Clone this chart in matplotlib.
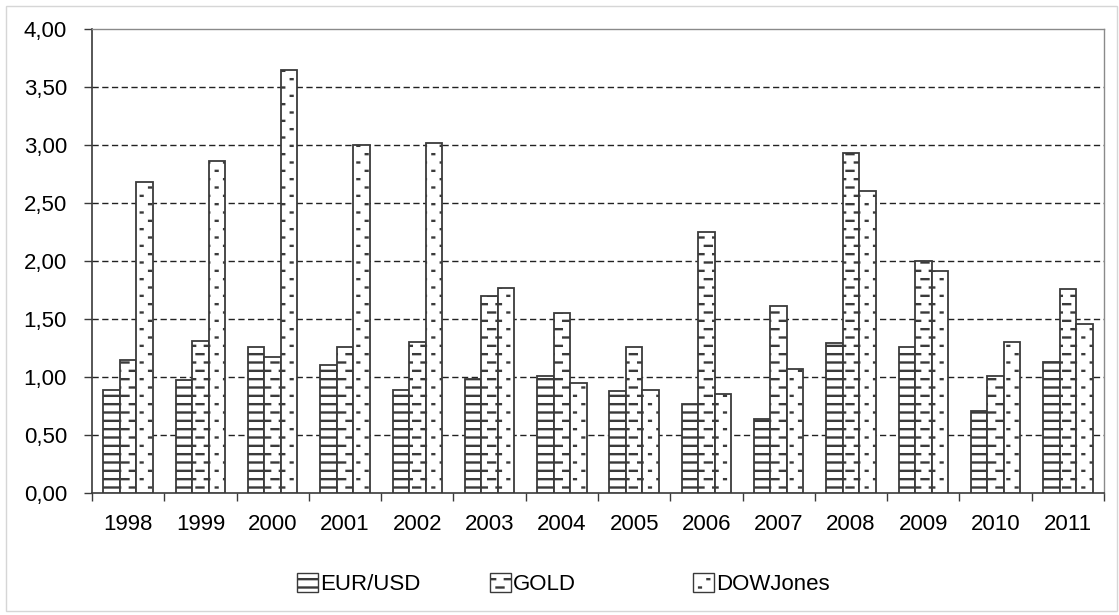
import matplotlib
matplotlib.use("Agg")
import matplotlib.pyplot as plt
import matplotlib.hatch as mhatch
import numpy as np
from matplotlib import font_manager
from matplotlib.patches import Patch, Rectangle
from matplotlib.path import Path
from matplotlib.ticker import FixedLocator, FuncFormatter

years = ["1998", "1999", "2000", "2001", "2002", "2003", "2004",
         "2005", "2006", "2007", "2008", "2009", "2010", "2011"]
eur_usd = [0.89, 0.97, 1.26, 1.10, 0.89, 0.98, 1.01, 0.88, 0.77, 0.64, 1.29, 1.26, 0.71, 1.13]
gold = [1.15, 1.31, 1.17, 1.26, 1.30, 1.70, 1.55, 1.26, 2.25, 1.61, 2.93, 2.00, 1.01, 1.76]
dow_jones = [2.68, 2.86, 3.65, 3.00, 3.02, 1.77, 0.95, 0.89, 0.85, 1.07, 2.60, 1.91, 1.30, 1.46]
series_names = ["EUR/USD", "GOLD", "DOWJones"]
y_ticks = [0, 0.5, 1.0, 1.5, 2.0, 2.5, 3.0, 3.5, 4.0]

INK = "#3a3a3a"


## custom fills: staggered short dashes and staggered dots
class StaggeredMarks(mhatch.HatchPatternBase):
    char = None
    rows = 12
    cols = 6
    length = 0.4

    def __init__(self, hatch, density):
        n = hatch.count(self.char)
        self.num_rows = self.rows * n
        self.num_cols = self.cols * n
        self.num_vertices = 2 * self.num_rows * (self.num_cols + 2) if n else 0

    def set_vertices_and_codes(self, vertices, codes):
        k = 0
        half = self.length / self.num_cols / 2
        for i in range(self.num_rows):
            y = (i + 0.5) / self.num_rows
            shift = 0.5 * (i % 2)
            for j in range(-1, self.num_cols + 1):
                x = (j + shift + 0.5) / self.num_cols
                vertices[k] = (x - half, y)
                vertices[k + 1] = (x + half, y)
                codes[k] = Path.MOVETO
                codes[k + 1] = Path.LINETO
                k += 2


class DashRows(StaggeredMarks):
    char = "O"
    length = 0.42


class DotRows(StaggeredMarks):
    char = "o"
    length = 0.11


mhatch._hatch_types[mhatch._hatch_types.index(mhatch.LargeCircles)] = DashRows
mhatch._hatch_types[mhatch._hatch_types.index(mhatch.SmallCircles)] = DotRows
hatches = ["--", "O", "o"]

names = {f.name for f in font_manager.fontManager.ttflist}
if "Liberation Sans Narrow" in names:
    family, fsize = "Liberation Sans Narrow", 18
else:
    family, fsize = "Liberation Sans", 16
plt.rcParams["font.family"] = [family, "DejaVu Sans"]
plt.rcParams["hatch.linewidth"] = 1.7
plt.rcParams["hatch.color"] = INK

W, H = 1119, 615
fig = plt.figure(figsize=(W / 100, H / 100), dpi=100)
ax = fig.add_axes([92 / W, 1 - 493 / H, (1104 - 92) / W, (493 - 29) / H])

x = np.arange(len(years))
width = 0.228
for k, (vals, hatch) in enumerate(zip([eur_usd, gold, dow_jones], hatches)):
    ax.bar(x + (k - 1) * width, vals, width, facecolor="white",
           edgecolor=INK, linewidth=1.3, hatch=hatch, zorder=3)

ax.set_xlim(-0.5, len(years) - 0.5)
ax.set_ylim(0, 4)
ax.yaxis.set_major_locator(FixedLocator(y_ticks))
ax.yaxis.set_major_formatter(FuncFormatter(lambda v, p: f"{v:.2f}".replace(".", ",")))
ax.tick_params(axis="y", direction="out", length=6, width=1, color=INK,
               labelsize=fsize, pad=12)

ax.set_xticks(x)
ax.set_xticklabels(years)
ax.set_xticks(np.arange(-0.5, len(years)), minor=True)
ax.tick_params(axis="x", which="major", length=0, labelsize=fsize, pad=15)
ax.tick_params(axis="x", which="minor", direction="out", length=6, width=1, color=INK)

for v in y_ticks[1:-1]:
    ax.axhline(v, color="#222222", lw=1.0, ls=(0, (4.5, 2.5)), zorder=1)

for side in ["left", "bottom"]:
    ax.spines[side].set_color(INK)
    ax.spines[side].set_linewidth(1.2)
for side in ["top", "right"]:
    ax.spines[side].set_color("#8a8a8a")
    ax.spines[side].set_linewidth(1.0)

# legend entries sit at fixed spacing like the spreadsheet legend
for name, hatch, left in zip(series_names, hatches, [297, 490, 693]):
    handle = Patch(facecolor="white", edgecolor=INK, linewidth=1.0, hatch=hatch)
    fig.legend([handle], [name], loc="center left", bbox_to_anchor=(left / W, 1 - 584 / H),
               frameon=False, fontsize=fsize, borderpad=0, borderaxespad=0,
               handlelength=0.95, handleheight=0.95, handletextpad=0.1)

fig.patches.append(Rectangle((6 / W, 4 / H), (W - 8) / W, (H - 10) / H,
                             transform=fig.transFigure, fill=False,
                             edgecolor="#d6d6d6", linewidth=1.0))

fig.savefig("out.png", dpi=100)
